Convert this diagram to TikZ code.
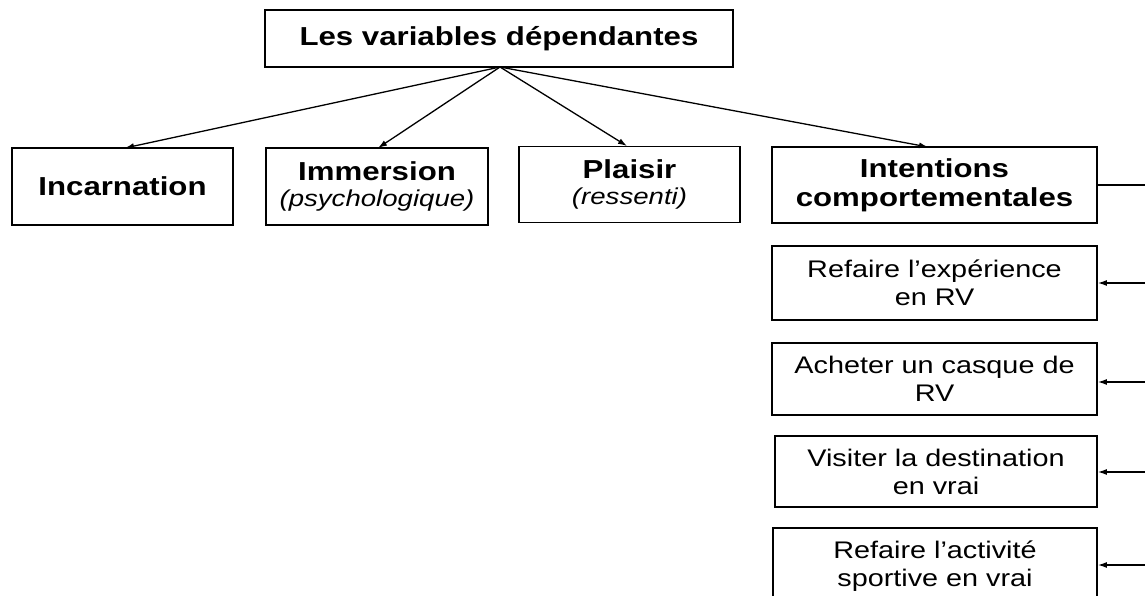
\documentclass[tikz,border=0pt]{standalone}
\usepackage{fontspec}
\setmainfont[FakeStretch=1.2]{Liberation Sans}
\usetikzlibrary{arrows.meta}
\begin{document}
\begin{tikzpicture}[x=1pt,y=-1pt,
  box/.style={draw,line width=1.8pt,inner sep=0pt,align=center},
  conn/.style={line width=1.3pt,-{Latex[length=9pt,width=6pt]}},
  ttl/.style={font=\fontsize{26}{29}\selectfont\bfseries},
  mix/.style={font=\fontsize{23}{26}\selectfont},
  itm/.style={font=\fontsize{24}{28}\selectfont}]
\useasboundingbox (0,0) rectangle (1145,596);
\clip (0,0) rectangle (1145,596);
\node[box,minimum width=468pt,minimum height=57pt,ttl] (top) at (499,38.5) {Les variables dépendantes};
\node[box,minimum width=221pt,minimum height=77pt,ttl] (inc) at (122.5,186.5) {Incarnation};
\node[box,minimum width=222pt,minimum height=77pt,mix] (imm) at (377,186.5) {{\fontsize{26}{29}\selectfont\bfseries Immersion}\\{\itshape (psychologique)}};
\node[box,minimum width=221pt,minimum height=76pt,mix] (pla) at (629.5,184.5) {{\fontsize{26}{29}\selectfont\bfseries Plaisir}\\{\itshape (ressenti)}};
\node[box,minimum width=325pt,minimum height=76pt,ttl] (int) at (934.5,185) {Intentions\\comportementales};
\node[box,minimum width=325pt,minimum height=74pt,itm] (b1) at (934.5,283) {Refaire l’expérience\\en RV};
\node[box,minimum width=325pt,minimum height=72pt,itm] (b2) at (934.5,379) {Acheter un casque de\\RV};
\node[box,minimum width=322pt,minimum height=71pt,itm] (b3) at (936,471.5) {Visiter la destination\\en vrai};
\node[box,minimum width=324pt,minimum height=76pt,itm] (b4) at (935,566) {Refaire l’activité\\sportive en vrai};
\coordinate (o) at (500,67);
\draw[conn] (o) -- (125,148);
\draw[conn] (o) -- (378,148);
\draw[conn] (o) -- (627,146);
\draw[conn] (o) -- (928,147);
\coordinate (r0) at (1146,185);
\coordinate (r1) at (1146,283);
\coordinate (r2) at (1146,382);
\coordinate (r3) at (1146,472);
\coordinate (r4) at (1146,565);
\draw[line width=1.3pt] (int.east) -- (r0);
\draw[conn] (r1) -- (b1.east |- r1);
\draw[conn] (r2) -- (b2.east |- r2);
\draw[conn] (r3) -- (b3.east |- r3);
\draw[conn] (r4) -- (b4.east |- r4);
\end{tikzpicture}
\end{document}
